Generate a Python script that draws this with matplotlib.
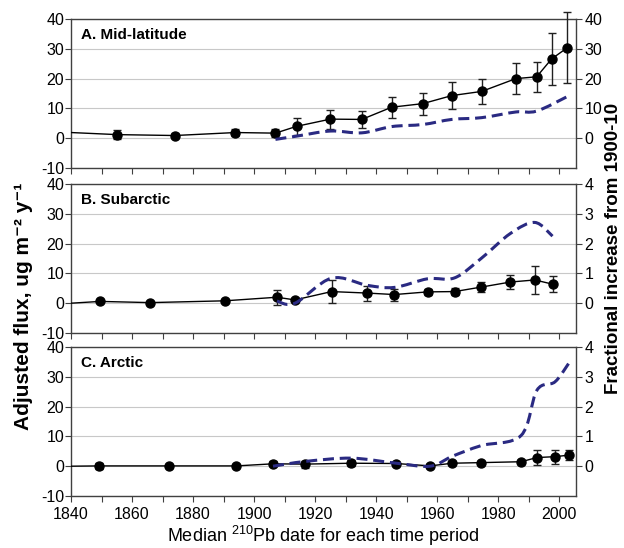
import numpy as np
import matplotlib.pyplot as plt
from matplotlib.path import Path
from matplotlib.patches import PathPatch

plt.rcParams['font.family'] = ['Liberation Sans', 'DejaVu Sans']
plt.rcParams['axes.unicode_minus'] = False
plt.rcParams['mathtext.fontset'] = 'custom'
plt.rcParams['mathtext.rm'] = 'Liberation Sans'
plt.rcParams['mathtext.bf'] = 'Liberation Sans:bold'

# A. Mid-latitude
a_start = 1.9
a_year = [1855.2, 1874.0, 1893.9, 1907.0, 1914.0, 1925.0, 1935.3, 1945.1, 1955.3,
          1964.8, 1974.6, 1985.8, 1992.6, 1997.5, 2002.7]
a_flux = [1.2, 0.9, 1.9, 1.7, 4.0, 6.4, 6.3, 10.4, 11.6, 14.3, 15.7, 20.0, 20.6, 26.6, 30.4]
a_err = [1.4, 0.8, 1.3, 1.3, 2.8, 3.2, 2.9, 3.5, 3.7, 4.5, 4.2, 5.1, 5.1, 8.8, 12.0]
a_frac_year = [1907.0, 1914.0, 1925.0, 1935.3, 1945.1, 1955.3, 1964.8, 1974.6,
               1985.8, 1992.6, 2002.7]
a_frac = [-0.4, 0.7, 2.4, 1.8, 3.9, 4.6, 6.3, 6.9, 8.8, 9.1, 14.0]

# B. Subarctic
b_start = 0.0
b_year = [1849.6, 1865.9, 1890.4, 1907.5, 1913.4, 1925.4, 1937.1, 1946.0, 1956.9,
          1965.7, 1974.4, 1984.0, 1992.0, 1997.8]
b_flux = [0.6, 0.2, 0.8, 2.0, 1.1, 3.9, 3.4, 2.9, 3.8, 3.9, 5.4, 7.1, 7.8, 6.4]
b_err = [0.3, 0.3, 0.3, 2.5, 0.5, 3.9, 2.5, 2.0, 1.0, 1.2, 1.8, 2.2, 4.6, 2.6]
b_frac_year = [1907.5, 1913.4, 1925.4, 1937.1, 1946.0, 1956.9, 1965.7, 1974.4,
               1984.0, 1992.0, 1997.8]
b_frac = [0.07, 0.0, 0.84, 0.6, 0.53, 0.82, 0.85, 1.5, 2.34, 2.71, 2.25]

# C. Arctic
c_start = 0.0
c_year = [1849.3, 1872.1, 1894.2, 1906.2, 1916.8, 1931.9, 1946.6, 1957.7, 1964.9,
          1974.4, 1987.5, 1992.7, 1998.6, 2003.1]
c_flux = [0.1, 0.1, 0.1, 0.8, 0.7, 1.0, 0.9, 0.1, 1.0, 1.2, 1.5, 2.9, 3.2, 3.7]
c_err = [1.1, 0.3, 0.3, 0.8, 1.2, 1.0, 0.5, 0.5, 0.6, 0.6, 0.6, 2.4, 2.3, 1.7]
c_frac_year = [1906.2, 1916.8, 1931.9, 1946.6, 1957.7, 1964.9, 1974.4, 1987.5,
               1992.7, 1998.6, 2003.1]
c_frac = [0.0, 0.16, 0.27, 0.1, 0.0, 0.33, 0.69, 1.03, 2.55, 2.83, 3.45]

titles = ['A. Mid-latitude', 'B. Subarctic', 'C. Arctic']
right_lims = [(-10, 40), (-1, 4), (-1, 4)]
right_ticks = [[0, 10, 20, 30, 40], [0, 1, 2, 3, 4], [0, 1, 2, 3, 4]]

navy = '#2a2a82'
spine_c = '#404040'


def smooth_path(xs, ys):
    # Excel-like smoothed line: Catmull-Rom segments as cubic Beziers
    p = np.column_stack([xs, ys]).astype(float)
    p_ext = np.vstack([p[0], p, p[-1]])
    verts = [p[0]]
    codes = [Path.MOVETO]
    for i in range(1, len(p_ext) - 2):
        p0, p1, p2, p3 = p_ext[i - 1], p_ext[i], p_ext[i + 1], p_ext[i + 2]
        verts += [p1 + (p2 - p0) / 6, p2 - (p3 - p1) / 6, p2]
        codes += [Path.CURVE4] * 3
    return Path(verts, codes)


fig = plt.figure(figsize=(6.24, 5.48), dpi=100)
W, H = 624, 548
panels = [(19, 168), (184, 333), (347, 496)]

data = [(a_start, a_year, a_flux, a_err, a_frac_year, a_frac),
        (b_start, b_year, b_flux, b_err, b_frac_year, b_frac),
        (c_start, c_year, c_flux, c_err, c_frac_year, c_frac)]

for k, (top, bot) in enumerate(panels):
    ax = fig.add_axes([71 / W, 1 - bot / H, (576 - 71) / W, (bot - top) / H])
    start, yr, fl, er, fyr, fr = data[k]

    ax.set_xlim(1840, 2005.5)
    ax.set_ylim(-10, 40)
    ax.set_yticks([-10, 0, 10, 20, 30, 40])
    ax.set_xticks(np.arange(1840, 2001, 20))
    ax.set_xticks(np.arange(1850, 2001, 20), minor=True)
    ax.grid(axis='y', color='#c8c8c8', lw=0.8)
    ax.set_axisbelow(True)
    ax.tick_params(which='both', direction='out', length=4, width=0.8,
                   color=spine_c, labelsize=11.5, pad=1)
    ax.tick_params(axis='x', pad=4)
    if k < 2:
        ax.tick_params(axis='x', labelbottom=False)
    for s in ax.spines.values():
        s.set_color(spine_c)
        s.set_linewidth(1.0)

    ax.plot([1840] + yr, [start] + fl, color='black', lw=1.0, zorder=3)
    ax.errorbar(yr, fl, yerr=er, fmt='o', color='black', ms=6.5,
                ecolor='#202020', elinewidth=1.0, capsize=3, capthick=1.0,
                zorder=4, clip_on=False)

    ax2 = ax.twinx()
    ax2.set_ylim(*right_lims[k])
    ax2.set_yticks(right_ticks[k])
    ax2.tick_params(direction='out', length=4, width=0.8, color=spine_c,
                    labelsize=11.5, pad=2)
    for s in ax2.spines.values():
        s.set_visible(False)
    patch = PathPatch(smooth_path(fyr, fr), fill=False, edgecolor=navy,
                      lw=2.2, linestyle=(0, (3.6, 1.9)), capstyle='butt')
    ax2.add_patch(patch)

    ax.text(0.02, 0.94, titles[k], transform=ax.transAxes, fontsize=11,
            fontweight='bold', va='top', ha='left')

    if k == 2:
        ax.set_xlabel('Median $^{210}$Pb date for each time period', fontsize=13)
        ax.xaxis.set_label_coords(0.5, -(536 - 496) / (bot - top), transform=ax.transAxes)
        ax.xaxis.label.set_va('center')

fig.text(24 / W, 1 - 306 / H, 'Adjusted flux, ug m\u207b\u00b2 y\u207b\u00b9',
         rotation=90, fontsize=15, fontweight='bold', ha='center', va='center')
fig.text(614 / W, 1 - 248 / H, 'Fractional increase from 1900-10',
         rotation=90, fontsize=13.5, fontweight='bold', ha='center', va='center')

fig.savefig('out.png', dpi=100)
